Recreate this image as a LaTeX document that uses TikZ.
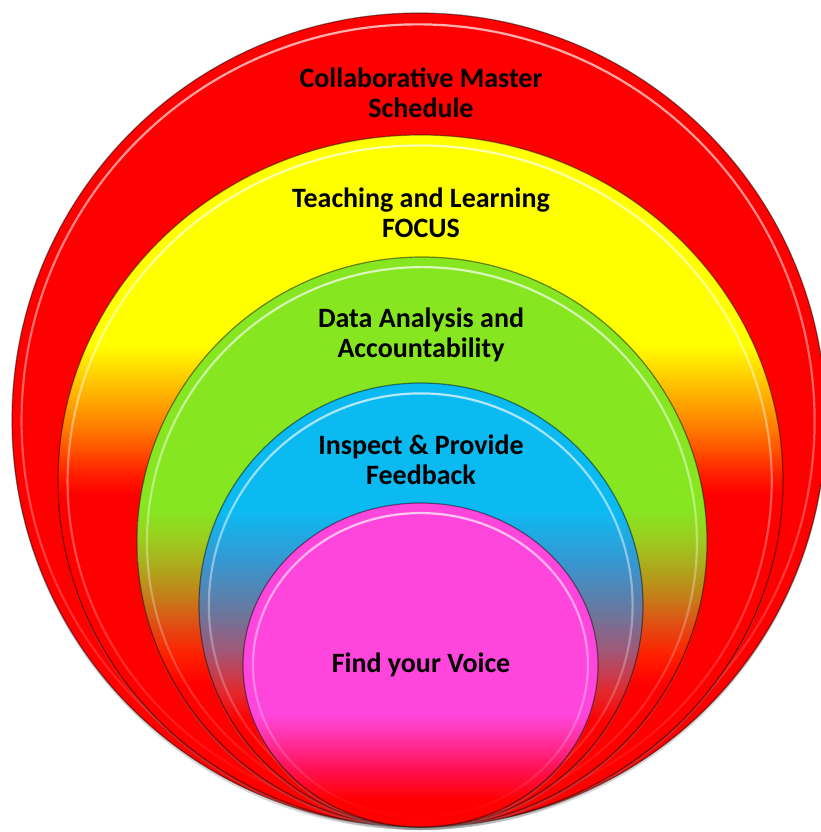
\documentclass[tikz,border=0pt]{standalone}
\usepackage{fontspec}
\setmainfont{Carlito}
\usetikzlibrary{shadows,fadings}

\definecolor{discred}{HTML}{FF0000}
\definecolor{discyellow}{HTML}{FFFF00}
\definecolor{amber}{HTML}{FFB000}
\definecolor{discorange}{HTML}{FF8000}
\definecolor{redorange}{HTML}{FF5000}
\definecolor{scarlet}{HTML}{FF2000}
\definecolor{discgreen}{HTML}{86E620}
\definecolor{limegreen}{HTML}{9CCC1E}
\definecolor{discolive}{HTML}{B0A41C}
\definecolor{discbrown}{HTML}{C87818}
\definecolor{rust}{HTML}{E44812}
\definecolor{discblue}{HTML}{0CBAF2}
\definecolor{steelblue}{HTML}{3598D2}
\definecolor{greyblue}{HTML}{6878A0}
\definecolor{mauve}{HTML}{A05878}
\definecolor{rosered}{HTML}{E02A30}
\definecolor{discpink}{HTML}{FF46DC}
\definecolor{hotpink}{HTML}{FF2FA0}
\definecolor{pinkred}{HTML}{FF1050}

% vertical fades, 25bp = bottom of the disc, 75bp = top
\pgfdeclareverticalshading{yellowdisc}{100bp}{color(0bp)=(discred); color(49bp)=(discred); color(50.6bp)=(scarlet); color(52.2bp)=(redorange); color(54bp)=(discorange); color(56.2bp)=(amber); color(59.8bp)=(discyellow); color(100bp)=(discyellow)}
\pgfdeclareverticalshading{greendisc}{100bp}{color(0bp)=(discred); color(37.5bp)=(discred); color(40.1bp)=(scarlet); color(42.5bp)=(rust); color(44.9bp)=(discbrown); color(47.5bp)=(discolive); color(50.2bp)=(limegreen); color(52.8bp)=(discgreen); color(100bp)=(discgreen)}
\pgfdeclareverticalshading{bluedisc}{100bp}{color(0bp)=(discred); color(37bp)=(discred); color(40.4bp)=(rosered); color(44.9bp)=(mauve); color(49.4bp)=(greyblue); color(55bp)=(steelblue); color(60.6bp)=(discblue); color(100bp)=(discblue)}
\pgfdeclareverticalshading{pinkdisc}{100bp}{color(0bp)=(discred); color(29.2bp)=(discred); color(33.8bp)=(pinkred); color(38.4bp)=(hotpink); color(42.3bp)=(discpink); color(100bp)=(discpink)}

\tikzset{
    disc/.style={draw=black, draw opacity=.45, line width=1.2,
        drop shadow={shadow xshift=0pt, shadow yshift=-3pt, opacity=.3}},
    rim/.style={draw=white, opacity=.7, line width=2.2, path fading=south},
    lbl/.style={font=\fontsize{28}{30}\selectfont\bfseries, align=center}
}

\begin{document}
\begin{tikzpicture}[x=1pt,y=-1pt]
    \useasboundingbox (0,0) rectangle (820,832);

    % discs, outer to inner
    \path[disc, fill=discred] (419,420) ellipse [x radius=407, y radius=407];
    \draw[rim] (419,420) ellipse [x radius=397, y radius=397];
    \shade[disc, shading=yellowdisc] (420.5,481) ellipse [x radius=362.5, y radius=346];
    \draw[rim] (420.5,481) ellipse [x radius=352.5, y radius=336];
    \shade[disc, shading=greendisc] (422,542) ellipse [x radius=285, y radius=285];
    \draw[rim] (422,542) ellipse [x radius=275, y radius=275];
    \shade[disc, shading=bluedisc] (421,605) ellipse [x radius=222, y radius=222];
    \draw[rim] (421,605) ellipse [x radius=212, y radius=212];
    \shade[disc, shading=pinkdisc] (420.5,665) ellipse [x radius=177.5, y radius=162];
    \draw[rim] (420.5,665) ellipse [x radius=167.5, y radius=152];

    \node[lbl] (schedule) at (421,93) {Collaborative Master\\Schedule};
    \node[lbl] (focus) at (421,213) {Teaching and Learning\\FOCUS};
    \node[lbl] (data) at (421,335) {Data Analysis and\\Accountability};
    \node[lbl] (inspect) at (421,460) {Inspect \& Provide\\Feedback};
    \node[lbl] (voice) at (421,665) {Find your Voice};
\end{tikzpicture}
\end{document}
